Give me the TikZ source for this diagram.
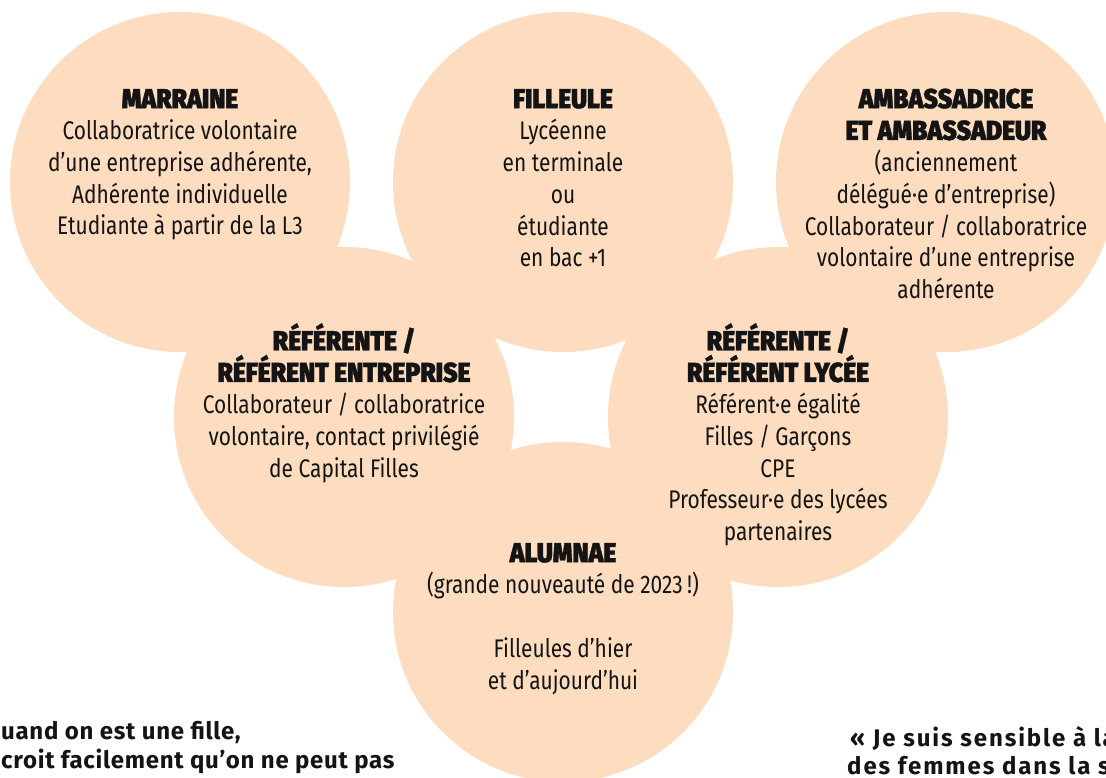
\documentclass[tikz,border=0pt]{standalone}
\usepackage{fontspec}
\setmainfont{Fira Sans}[FakeStretch=0.82]
\newfontfamily\headfont{Fira Sans}[UprightFont={* Black}, FakeStretch=0.9, FakeBold=1.2]
\newfontfamily\quotefont{Fira Sans}[UprightFont={* Bold}, LetterSpace=3]
\newfontfamily\quotefontls{Fira Sans}[UprightFont={* Bold}, LetterSpace=8]
\definecolor{peach}{RGB}{253,220,192}
\definecolor{ink}{RGB}{20,20,20}
\newcommand{\hd}[1]{{\headfont\fontsize{27.5}{31.7}\selectfont #1}}
\newcommand{\fst}{\rule{0pt}{24pt}}
\begin{document}
\begin{tikzpicture}[x=1pt,y=-1pt,
  blob/.style={circle, fill=peach, draw=none, minimum size=340pt, inner sep=0pt},
  txt/.style={align=center, anchor=north, inner sep=0pt, text=ink, font=\fontsize{25.5}{31.7}\selectfont},
  quote/.style={anchor=base west, inner sep=0pt, text=ink, font=\quotefont\fontsize{24}{30}\selectfont},
  quotels/.style={anchor=base west, inner sep=0pt, text=ink, font=\quotefontls\fontsize{24}{30}\selectfont}]
\useasboundingbox (0,0) rectangle (1106,778);
\clip (0,0) rectangle (1106,778);
\fill[white] (0,0) rectangle (1106,778);
% circles
\node[blob] (marraine) at (180,182) {};
\node[blob] (filleule) at (563,182) {};
\node[blob] (ambass) at (946,182) {};
\node[blob] (refent) at (344,417) {};
\node[blob] (reflyc) at (778,417) {};
\node[blob] (alumnae) at (563,612) {};
% texts
\node[txt] (tmarraine) at (180,84) {\fst\hd{MARRAINE}\\
  Collaboratrice volontaire\\
  d’une entreprise adhérente,\\
  Adhérente individuelle\\
  Etudiante à partir de la L3};
\node[txt] (tfilleule) at (563,84) {\fst\hd{FILLEULE}\\
  Lycéenne\\ en terminale\\ ou\\ étudiante\\ en bac +1};
\node[txt] (tambass) at (946,84) {\fst\hd{AMBASSADRICE}\\
  \hd{ET AMBASSADEUR}\\
  (anciennement\\
  délégué·e d’entreprise)\\
  Collaborateur / collaboratrice\\
  volontaire d’une entreprise\\
  adhérente};
\node[txt] (trefent) at (344,323) {\fst\hd{RÉFÉRENTE /}\\
  \hd{RÉFÉRENT ENTREPRISE}\\
  Collaborateur / collaboratrice\\
  volontaire, contact privilégié\\
  de Capital Filles};
\node[txt] (treflyc) at (778,323) {\fst\hd{RÉFÉRENTE /}\\
  \hd{RÉFÉRENT LYCÉE}\\
  Référent·e égalité\\
  Filles / Garçons\\
  CPE\\
  Professeur·e des lycées\\
  partenaires};
\node[txt] (talumnae) at (563,538) {\fst\hd{ALUMNAE}\\
  (grande nouveauté de 2023\,!)\\
  ~\\
  Filleules d’hier\\
  et d’aujourd’hui};
% quotes
\node[quote] (qleftA) at (1,739) {uand on est une fille,};
\node[quote] (qleftB) at (1,768) {croit facilement qu’on ne peut pas};
\node[quotels] (qrightA) at (850,746) {« Je suis sensible à la};
\node[quotels] (qrightB) at (847,774) {des femmes dans la s};
\end{tikzpicture}
\end{document}
